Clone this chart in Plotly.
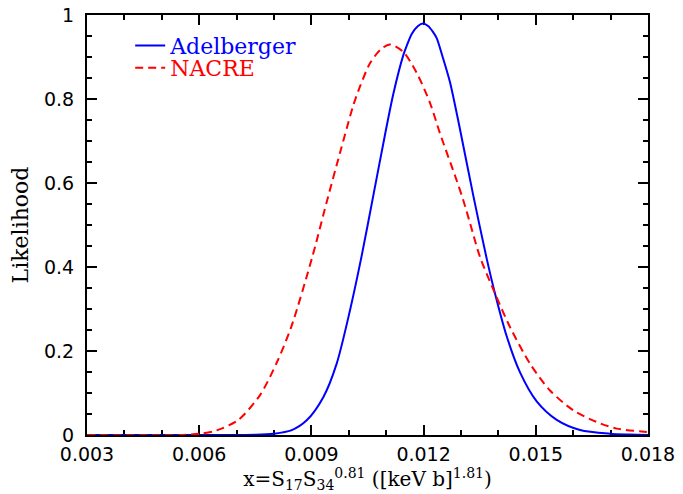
import plotly.graph_objects as go

# ---- data ----
adel_x = [0.0030, 0.0070, 0.0075, 0.00798, 0.00846, 0.008874, 0.009318, 0.009676,
          0.010032, 0.010345, 0.010655, 0.010968, 0.01119, 0.01146, 0.01155, 0.011682,
          0.01185, 0.01198, 0.01212, 0.01225, 0.01235, 0.0125, 0.012706, 0.012973,
          0.013329, 0.013687, 0.013909, 0.014222, 0.014578, 0.015024, 0.015559,
          0.016182, 0.01698, 0.0175, 0.0180]
adel_y = [0.0, 0.0, 0.0005, 0.003, 0.011, 0.035, 0.09, 0.17,
          0.297, 0.427, 0.57, 0.715, 0.812, 0.905, 0.927, 0.955,
          0.974, 0.98, 0.974, 0.96, 0.945, 0.903, 0.84, 0.728,
          0.57, 0.42, 0.337, 0.235, 0.149, 0.080, 0.036,
          0.012, 0.003, 0.001, 0.0]

nacre_x = [0.0030, 0.0055, 0.00602, 0.006467, 0.007046, 0.007626, 0.008072, 0.00846,
           0.009024, 0.009409, 0.009765, 0.009944, 0.01012, 0.0103, 0.010567,
           0.01085, 0.0111, 0.011457, 0.011816, 0.01217, 0.012439, 0.012885, 0.013061,
           0.01324, 0.013508, 0.01391, 0.01431, 0.014845, 0.01538, 0.016003,
           0.016628, 0.017163, 0.017965, 0.0180]
nacre_y = [0.0, 0.0, 0.003, 0.011, 0.036, 0.095, 0.172, 0.257,
           0.424, 0.555, 0.672, 0.730, 0.785, 0.830, 0.885,
           0.918, 0.930, 0.912, 0.862, 0.791, 0.718, 0.606, 0.559,
           0.505, 0.424, 0.337, 0.257, 0.170, 0.106, 0.0588,
           0.031, 0.0152, 0.0071, 0.0068]

x_tickvals = [0.003, 0.006, 0.009, 0.012, 0.015, 0.018]
x_ticktext = ["0.003", "0.006", "0.009", "0.012", "0.015", "0.018"]
y_tickvals = [0, 0.2, 0.4, 0.6, 0.8, 1.0]
y_ticktext = ["0", "0.2", "0.4", "0.6", "0.8", "1"]

series_names = ["Adelberger", "NACRE"]
series_colors = ["#0000ff", "#ff0000"]

serif = "DejaVu Serif"
sans = "DejaVu Sans"

fig = go.Figure()
fig.add_trace(go.Scatter(
    x=adel_x, y=adel_y, mode="lines", legend="legend",
    name=f"<span style='color:{series_colors[0]}'>{series_names[0]}</span>",
    line=dict(color=series_colors[0], width=2, shape="spline", smoothing=0.8),
))
fig.add_trace(go.Scatter(
    x=nacre_x, y=nacre_y, mode="lines", legend="legend2",
    name=f"<span style='color:{series_colors[1]}'>{series_names[1]}</span>",
    line=dict(color=series_colors[1], width=2, dash="8px,5px", shape="spline", smoothing=0.8),
))

axis_common = dict(
    showgrid=False, zeroline=False, showline=True, linecolor="black", linewidth=2,
    mirror="allticks", ticks="inside", ticklen=10, tickwidth=1.5, tickcolor="black",
    tickfont=dict(family=sans, size=19, color="black"),
    layer="below traces", automargin=False, ticklabeloverflow="allow",
)

legend_common = dict(
    xanchor="left", yanchor="middle",
    font=dict(family=serif, size=22),
    bgcolor="rgba(0,0,0,0)", borderwidth=0,
)

# the page body has an 8px margin, so the figure is 8px smaller than the window
fig.update_layout(
    width=675, height=486,
    margin=dict(l=79, r=35, t=7, b=59),
    paper_bgcolor="white", plot_bgcolor="white",
    showlegend=True,
    legend=dict(x=0.077, y=0.927, **legend_common),
    legend2=dict(x=0.077, y=0.874, **legend_common),
    xaxis=dict(
        range=[0.003, 0.018], tickmode="array", tickvals=x_tickvals, ticktext=x_ticktext,
        minor=dict(tick0=0.003, dtick=0.001, ticks="inside", ticklen=5, tickwidth=1.5, tickcolor="black"),
        title=dict(text="x=S<sub>17</sub>S<sub>34</sub><sup>0.81</sup> ([keV b]<sup>1.81</sup>)",
                   font=dict(family=serif, size=20, color="black"), standoff=0),
        ticklabelstandoff=1,
        **axis_common,
    ),
    yaxis=dict(
        range=[0, 1], tickmode="array", tickvals=y_tickvals, ticktext=y_ticktext,
        minor=dict(tick0=0, dtick=0.05, ticks="inside", ticklen=5, tickwidth=1.5, tickcolor="black"),
        title=dict(text="Likelihood", font=dict(family=serif, size=22, color="black"), standoff=9),
        ticklabelstandoff=7,
        **axis_common,
    ),
)

fig.write_html("out.html")
